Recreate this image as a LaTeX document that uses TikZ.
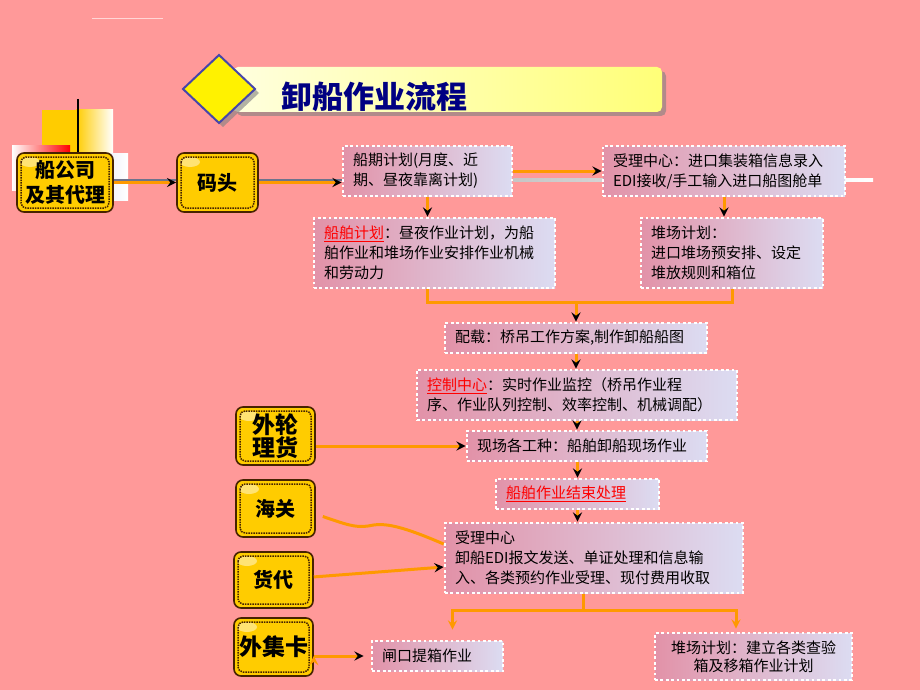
\documentclass[tikz,border=0pt]{standalone}
\usepackage{fontspec}
\setmainfont{Noto Sans CJK SC}
\usepackage{tikz}
\usetikzlibrary{calc,backgrounds}
\definecolor{bgpink}{RGB}{255,153,153}
\definecolor{flow}{RGB}{255,153,0}
\definecolor{tagfill}{RGB}{255,204,0}
\definecolor{tagline}{RGB}{70,35,0}
\definecolor{boxleft}{RGB}{226,146,168}
\definecolor{boxmid}{RGB}{196,126,168}
\definecolor{boxright}{RGB}{220,220,242}
\definecolor{titleblue}{RGB}{0,0,130}
\definecolor{diamondline}{RGB}{70,70,170}
\definecolor{railgray}{RGB}{110,115,140}
\newcommand{\hot}[1]{\textcolor{red}{\underline{#1}}}

\tikzset{
  tag/.style={draw=tagline, line width=1.6pt, fill=tagfill, rounded corners=7pt, align=center,
    inner sep=0pt, font=\bfseries\fontsize{20}{25}\selectfont,
    path picture={
      \fill[white, opacity=.45] ([shift={(13pt,-9pt)}]path picture bounding box.north west) ellipse [x radius=10pt, y radius=5pt];
      \draw[densely dotted, line width=1.5pt, rounded corners=5pt]
        ([shift={(4pt,-4pt)}]path picture bounding box.north west) rectangle
        ([shift={(-4pt,4pt)}]path picture bounding box.south east);}},
  stepbox/.style={draw=white, line width=2.8pt, dash pattern=on 2.8pt off 2.6pt,
    left color=boxleft, middle color=boxmid, right color=boxright,
    align=left, inner xsep=10pt, inner ysep=0pt, font=\fontsize{15}{20}\selectfont},
  flowarrow/.style={draw=flow, line width=3pt, -stealth},
  flowline/.style={draw=flow, line width=3pt},
}

\begin{document}
\begin{tikzpicture}[x=1pt, y=-1pt]
  \useasboundingbox (0,0) rectangle (920,690);
  \begin{scope}[on background layer]
    \fill[bgpink] (0,0) rectangle (920,690);
    % corner decoration
    \draw[white!60!bgpink, line width=1pt] (92,19) -- (163,19);
    \fill[tagfill] (42,110) rectangle (76,160);
    \shade[left color=tagfill, right color=white] (76,110) rectangle (113,160);
    \shade[left color=white, right color=red] (12,145) rectangle (70,190);
    \shade[left color=boxright, right color=white] (80,153) rectangle (128,200);
    \draw[black, line width=2.5pt] (78,99) -- (78,160);
  \end{scope}

  % title
  \fill[gray, opacity=.6, rounded corners=5pt] (237,71) rectangle (666,116);
  \shade[left color={rgb,255:red,255;green,255;blue,222}, right color={rgb,255:red,255;green,255;blue,120}, rounded corners=5pt] (233,67) rectangle (662,112);
  \fill[gray, opacity=.6] (223,59) -- (259,93) -- (223,127) -- (187,93) -- cycle;
  \filldraw[fill=yellow, draw=diamondline, line width=2pt] (219,55) -- (255,89) -- (219,123) -- (183,89) -- cycle;
  \node[anchor=west, inner sep=0pt, text=titleblue, font=\bfseries\fontsize{31}{31}\selectfont] (title) at (281,97) {卸船作业流程};

  % parties
  \node[tag, minimum width=96pt, minimum height=59pt] (agent) at (65,182.5) {船公司\\及其代理};
  \node[tag, minimum width=81pt, minimum height=59pt] (wharf) at (217.5,182.5) {码头};
  \node[tag, minimum width=79pt, minimum height=58pt, font=\bfseries\fontsize{23}{22}\selectfont] (tally) at (275.5,436) {外轮\\理货};
  \node[tag, minimum width=79pt, minimum height=57pt] (customs) at (275.5,508.5) {海关};
  \node[tag, minimum width=79pt, minimum height=56pt] (forwarder) at (273.5,580) {货代};
  \node[tag, minimum width=79pt, minimum height=58pt, font=\bfseries\fontsize{23}{23}\selectfont] (truck) at (273.5,647) {外集卡};

  % steps
  \node[stepbox, text width=149pt, minimum height=50pt] (sched) at (427.5,171) {船期计划(月度、近\\期、昼夜靠离计划)};
  \node[stepbox, text width=222pt, minimum height=50pt] (recv) at (724,171) {受理中心：进口集装箱信息录入\\EDI接收/手工输入进口船图舱单};
  \node[stepbox, text width=221pt, minimum height=70pt] (vplan) at (434.5,253) {\hot{船舶计划}：昼夜作业计划，为船\\舶作业和堆场作业安排作业机械\\和劳动力};
  \node[stepbox, text width=162pt, minimum height=70pt] (yplan) at (732,253) {堆场计划：\\进口堆场预安排、设定\\堆放规则和箱位};
  \node[stepbox, text width=242pt, minimum height=30pt] (stow) at (576,338) {配载：桥吊工作方案,制作卸船船图};
  \node[stepbox, text width=300pt, minimum height=50pt] (ctrl) at (577,395) {\hot{控制中心}：实时作业监控（桥吊作业程\\序、作业队列控制、效率控制、机械调配）};
  \node[stepbox, text width=220pt, minimum height=30pt] (field) at (587,446) {现场各工种：船舶卸船现场作业};
  \node[stepbox, text width=143pt, minimum height=30pt] (finish) at (577.5,494) {\hot{船舶作业结束处理}};
  \node[stepbox, text width=278pt, minimum height=70pt] (recv2) at (594,558) {受理中心\\卸船EDI报文发送、单证处理和信息输\\入、各类预约作业受理、现付费用收取};
  \node[stepbox, text width=111pt, minimum height=30pt] (gate) at (437.5,656) {闸口提箱作业};
  \node[stepbox, text width=177pt, minimum height=47pt, align=center, font=\fontsize{15}{18}\selectfont] (yplan2) at (753.5,656.5) {堆场计划：建立各类查验\\箱及移箱作业计划};

  % rail behind the top row
  \coordinate (railend) at (873,180);
  \begin{scope}[on background layer]
    \draw[railgray, line width=2.5pt] (agent.east |- railend) -- (sched.west |- railend);
    \shade[left color=gray!45!white, right color=white] ($(sched.east |- railend)+(0,-1.5)$) rectangle ($(railend)+(0,1.5)$);
  \end{scope}

  % flow
  \coordinate (merge) at (576,302);
  \coordinate (split) at (583,610);
  \draw[flowline] (sched.south |- vplan.south) |- (merge) -| (yplan.south);
  \draw[flowline] (split |- recv2.south) -- (split);
  \path[flowarrow]
    (agent) edge (wharf)
    (wharf) edge (wharf -| sched.west)
    (sched) edge (recv)
    (sched.south) edge (sched.south |- vplan.north)
    (recv.south) edge (recv.south |- yplan.north)
    (merge) edge (merge |- stow.north)
    (stow) edge (stow.south |- ctrl.north)
    (ctrl.south) edge (ctrl.south |- field.north)
    (finish.north |- field.south) edge (finish)
    (finish) edge (finish.south |- recv2.north)
    (tally.east |- field.west) edge (field)
    (forwarder) edge ([yshift=-9pt]recv2.west)
    (truck.east |- gate.west) edge[shorten >=7pt] (gate);
  \draw[flowarrow, shorten >=10pt] (split) -| ([xshift=15pt]gate.north);
  \draw[flowarrow, shorten >=3pt] (split) -| ([xshift=-17.5pt]yplan2.north);
  \draw[flowline] ([shift={(7pt,-8pt)}]customs.east) .. controls (345,524) and (355,528) .. (368,526)
    .. controls (382,523) and (395,523) .. ([yshift=14pt]recv2.west);
\end{tikzpicture}
\end{document}
